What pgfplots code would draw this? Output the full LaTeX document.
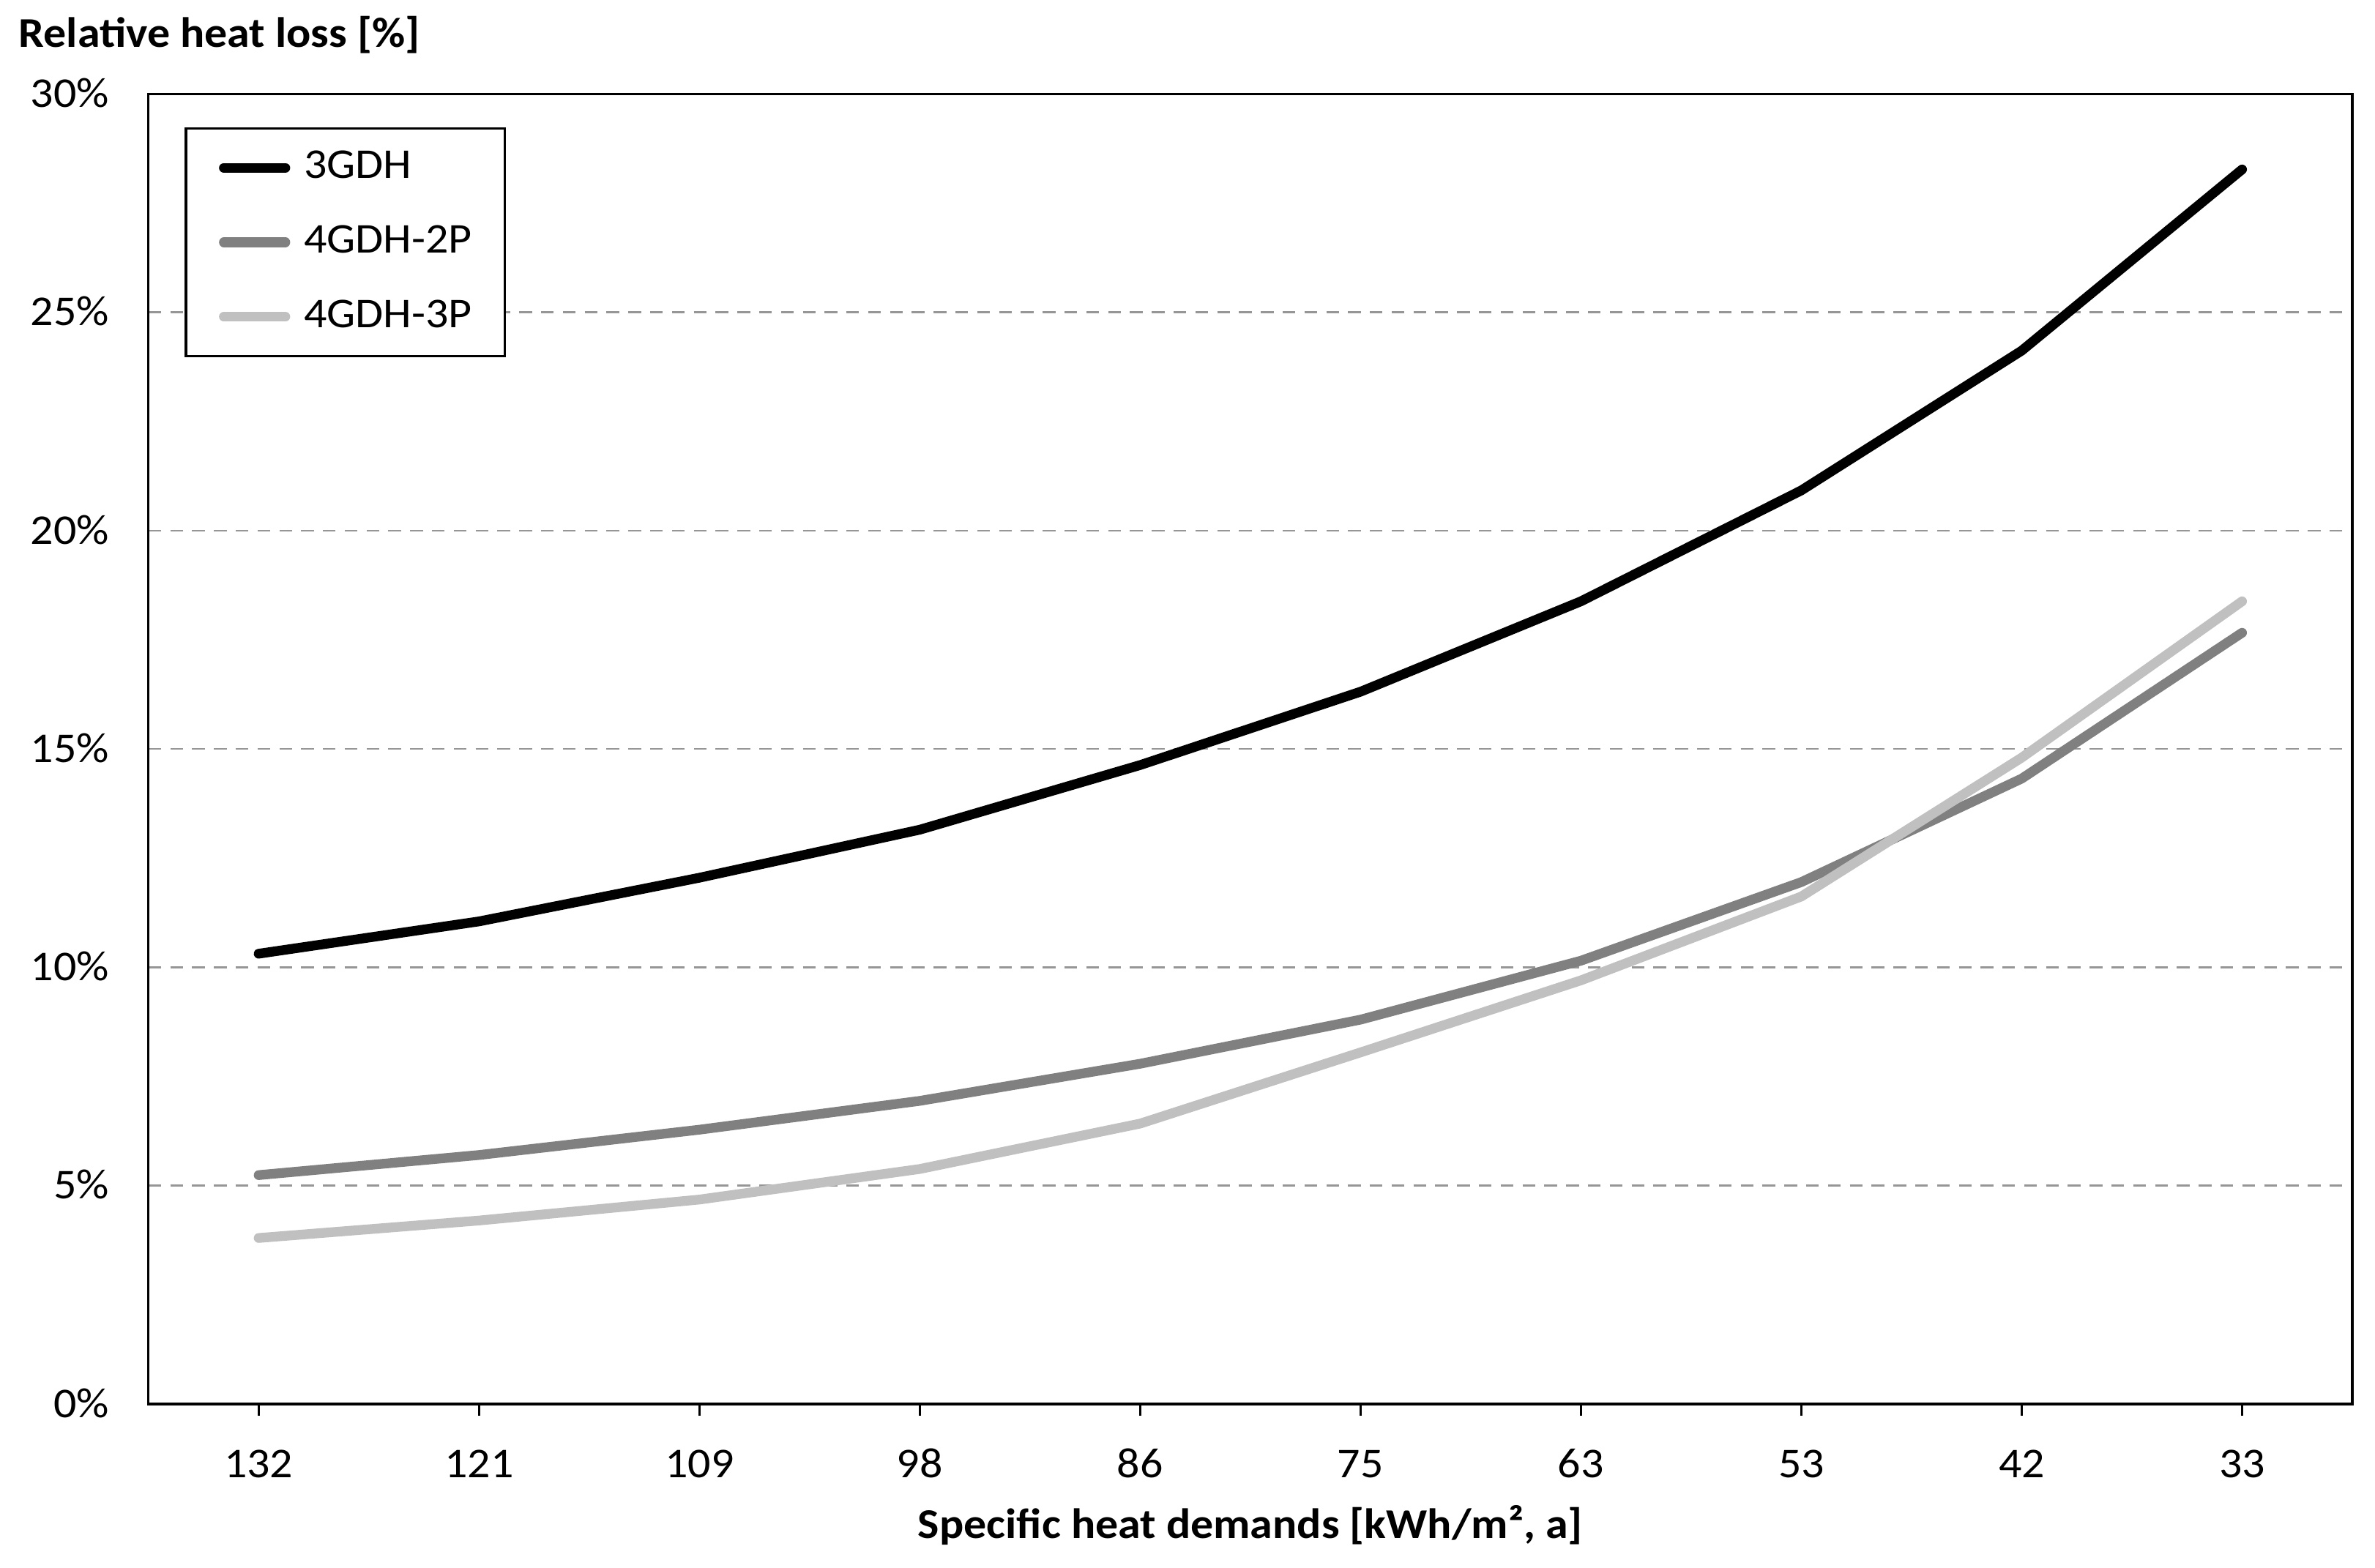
\documentclass[border=0pt]{standalone}
\usepackage{pgfplots}
\pgfplotsset{compat=1.18}
\usepackage{fontspec}
\setmainfont{Carlito}[FakeStretch=1.07]
\definecolor{ser2}{HTML}{808080}
\definecolor{ser3}{HTML}{C0C0C0}
\definecolor{gridc}{HTML}{969696}
\newcommand{\lblfont}{\fontsize{14}{16.8}\selectfont}
\begin{document}
\begin{tikzpicture}
\begin{axis}[
  at={(0,0)}, anchor=south west,
  scale only axis,
  width=727.5pt, height=432.5pt,
  xmin=-0.5, xmax=9.5,
  ymin=0, ymax=30,
  xtick={0,1,2,3,4,5,6,7,8,9},
  xticklabels={132,121,109,98,86,75,63,53,42,33},
  ytick={0,5,10,15,20,25,30},
  yticklabel={\pgfmathprintnumber{\tick}\%},
  /pgf/number format/assume math mode=true,
  axis line style={black, line width=0.8pt},
  x tick style={black, line width=0.6pt},
  tick align=outside,
  major tick length=3.8pt,
  y tick style={draw=none},
  xtick pos=bottom,
  ytick pos=left,
  ymajorgrids,
  grid style={gridc, line width=0.6pt, dash pattern=on 4.2pt off 3pt},
  xticklabel style={font=\lblfont, anchor=base, inner sep=0pt, yshift=-20.5pt},
  yticklabel style={font=\lblfont, anchor=base east, inner sep=0pt, xshift=-9pt, yshift=-4.4pt},
  xlabel={\bfseries Specific heat demands [kWh/m², a]},
  xlabel style={font=\lblfont, at={(axis description cs:0.5,0)}, anchor=base, inner sep=0pt, yshift=-44.4pt},
  legend style={at={(0.0165,0.9746)}, anchor=north west, draw=black, line width=0.8pt,
    font=\lblfont, inner xsep=10.9pt, inner ysep=7pt, row sep=12.6pt,
    nodes={inner sep=0pt, text height=9.5pt, text depth=2.5pt}},
  legend cell align=left,
  legend image code/.code={\draw[#1, line cap=round] (0pt,0pt) -- (20.3pt,0pt);},
]
\addplot[black, line width=3.2pt, line cap=round, line join=round] coordinates {
(0,10.31) (1,11.05) (2,12.05) (3,13.15) (4,14.63) (5,16.31) (6,18.38) (7,20.92) (8,24.12) (9,28.27)};
\addlegendentry{\hspace{4.5pt}3GDH}
\addplot[ser2, line width=3.2pt, line cap=round, line join=round] coordinates {
(0,5.24) (1,5.70) (2,6.28) (3,6.94) (4,7.79) (5,8.80) (6,10.15) (7,11.95) (8,14.32) (9,17.66)};
\addlegendentry{\hspace{4.5pt}4GDH-2P}
\addplot[ser3, line width=3.2pt, line cap=round, line join=round] coordinates {
(0,3.80) (1,4.20) (2,4.68) (3,5.38) (4,6.42) (5,8.05) (6,9.70) (7,11.62) (8,14.80) (9,18.38)};
\addlegendentry{\hspace{4.5pt}4GDH-3P\hspace{11pt}}
\end{axis}
\node[anchor=base west, inner sep=0pt, font=\lblfont\bfseries] at (-43pt,447.8pt) {Relative heat loss [\%]};
\pgfresetboundingbox
\path (-49pt,-54pt) rectangle (735pt,463.5pt);
\end{tikzpicture}
\end{document}
